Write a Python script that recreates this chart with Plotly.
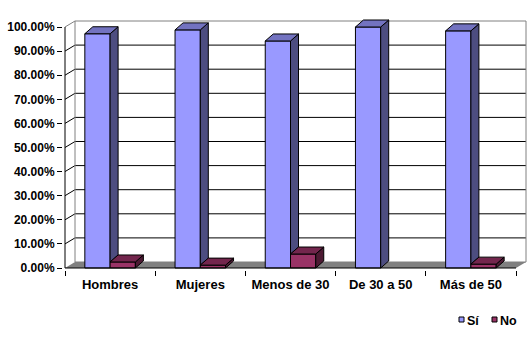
import plotly.graph_objects as go

# ---------------- data ----------------
categories = ["Hombres", "Mujeres", "Menos de 30", "De 30 a 50", "Más de 50"]
si_values = [97.2, 98.8, 94.2, 100.0, 98.4]
no_values = [2.5, 1.2, 5.8, 0.0, 1.6]
series_names = ["Sí", "No"]
y_tick_values = [0, 10, 20, 30, 40, 50, 60, 70, 80, 90, 100]
y_tick_labels = ["0.00%", "10.00%", "20.00%", "30.00%", "40.00%", "50.00%",
                 "60.00%", "70.00%", "80.00%", "90.00%", "100.00%"]

# ---------------- styling / geometry ----------------
W, H = 532, 342
ML, MR, MT, MB = 63, 4, 19, 72
plot_w = W - ML - MR
plot_h = H - MT - MB
ncat = len(categories)
wall_dx_px, wall_dy_px = 10, 6      # depth of walls / floor
bar_dx_px, bar_dy_px = 8, 7         # depth of bars
pad = 2                             # pixels of padding around the drawing inside the plot area

kx = (plot_w - 2 * pad - wall_dx_px) / ncat      # px per category
ky = (plot_h - 2 * pad - wall_dy_px) / 100.0     # px per percent
x_range = [-0.5 - pad / kx, ncat - 0.5 + (wall_dx_px + pad) / kx]
y_range = [-pad / ky, 100 + (wall_dy_px + pad) / ky]
wdx, wdy = wall_dx_px / kx, wall_dy_px / ky
bdx, bdy = bar_dx_px / kx, bar_dy_px / ky
bar_w = 0.28

si_colors = dict(front="#9999FF", top="#7373C0", side="#4D4D80")
no_colors = dict(front="#993366", top="#73264D", side="#4D1A33")
FONT = "Liberation Sans, Arial, sans-serif"

xs = list(range(ncat))

fig = go.Figure()

# front faces of the bars
fig.add_trace(go.Bar(x=xs, y=si_values, width=bar_w, offset=-bar_w, name=series_names[0],
                     marker=dict(color=si_colors["front"],
                                 line=dict(color="black", width=[1 if v > 0 else 0 for v in si_values])),
                     showlegend=False, hoverinfo="skip"))
fig.add_trace(go.Bar(x=xs, y=no_values, width=bar_w, offset=0, name=series_names[1],
                     marker=dict(color=no_colors["front"],
                                 line=dict(color="black", width=[1 if v > 0 else 0 for v in no_values])),
                     showlegend=False, hoverinfo="skip"))


def faces(values, offset, lower=None):
    tx, ty, sx, sy = [], [], [], []
    for i, v in enumerate(values):
        if v <= 0:
            continue
        x0 = i + offset
        x1 = x0 + bar_w
        tx += [x0, x1, x1 + bdx, x0 + bdx, x0, None]
        ty += [v, v, v + bdy, v + bdy, v, None]
        lo = 0 if lower is None else lower[i]
        sx += [x1, x1 + bdx, x1 + bdx, x1, x1, None]
        sy += [lo, lo + bdy, v + bdy, v, lo, None]
    return tx, ty, sx, sy


for vals, off, cols, lower in [(si_values, -bar_w, si_colors, no_values),
                               (no_values, 0, no_colors, None)]:
    tx, ty, sx, sy = faces(vals, off, lower)
    for fx, fy, c in [(sx, sy, cols["side"]), (tx, ty, cols["top"])]:
        fig.add_trace(go.Scatter(x=fx, y=fy, mode="lines", fill="toself", fillcolor=c,
                                 line=dict(color="black", width=1), showlegend=False,
                                 hoverinfo="skip"))

shapes = []
# floor
x_lo, x_hi = -0.5, ncat - 0.5
shapes.append(dict(type="path", xref="x", yref="y", layer="below",
                   path=f"M {x_lo},0 L {x_hi},0 L {x_hi + wdx},{wdy} L {x_lo + wdx},{wdy} Z",
                   fillcolor="#808080", line=dict(width=0)))
# back wall gridlines and side wall diagonals
for v in y_tick_values:
    if 0 < v < 100:
        shapes.append(dict(type="line", xref="x", yref="y", layer="below",
                           x0=x_lo + wdx, y0=v + wdy, x1=x_hi + wdx, y1=v + wdy,
                           line=dict(color="black", width=1)))
    if v > 0:
        shapes.append(dict(type="line", xref="x", yref="y", layer="below",
                           x0=x_lo, y0=v, x1=x_lo + wdx, y1=v + wdy,
                           line=dict(color="black" if v < 100 else "#808080", width=1)))
# back wall border
shapes.append(dict(type="rect", xref="x", yref="y", layer="below",
                   x0=x_lo + wdx, y0=wdy, x1=x_hi + wdx, y1=100 + wdy,
                   line=dict(color="#808080", width=1)))
# front axis lines
shapes.append(dict(type="line", xref="x", yref="y", x0=x_lo, y0=0, x1=x_lo, y1=100,
                   line=dict(color="black", width=1)))
shapes.append(dict(type="line", xref="x", yref="y", x0=x_lo, y0=0, x1=x_hi, y1=0,
                   line=dict(color="black", width=1)))


def pxx(px):
    return (px - ML) / plot_w


def pxy(py):
    return (MT + plot_h - py) / plot_h


annotations = []
legend_items = [(series_names[0], si_colors["front"], 459), (series_names[1], no_colors["front"], 492)]
for name, col, lx in legend_items:
    shapes.append(dict(type="rect", xref="paper", yref="paper",
                       x0=pxx(lx), x1=pxx(lx + 5), y0=pxy(322), y1=pxy(317),
                       fillcolor=col, line=dict(color="black", width=1)))
    annotations.append(dict(xref="paper", yref="paper", x=pxx(lx + 6), y=pxy(320.5),
                            xanchor="left", yanchor="middle", text=name, showarrow=False,
                            font=dict(family=FONT, size=12.5, color="black", weight="bold")))

fig.update_layout(
    width=W, height=H, margin=dict(l=ML, r=MR, t=MT, b=MB, pad=0),
    paper_bgcolor="white", plot_bgcolor="white",
    barmode="overlay", showlegend=False,
    shapes=shapes, annotations=annotations,
    xaxis=dict(range=x_range, tickmode="array", tickvals=xs, ticktext=categories,
               ticks="", showgrid=False, zeroline=False, showline=False,
               ticklabelstandoff=5,
               tickfont=dict(family=FONT, size=13, color="black", weight="bold"),
               minor=dict(tickmode="array", tickvals=[i - 0.5 for i in range(ncat + 1)],
                          ticks="outside", ticklen=5, tickcolor="black", tickwidth=1,
                          showgrid=False),
               fixedrange=True),
    yaxis=dict(range=y_range, tickmode="array", tickvals=y_tick_values, ticktext=y_tick_labels,
               ticks="outside", ticklen=5, tickcolor="black", tickwidth=1,
               showgrid=False, zeroline=False, showline=False,
               tickfont=dict(family=FONT, size=12, color="black", weight="bold"),
               fixedrange=True),
)

fig.write_html("out.html")
